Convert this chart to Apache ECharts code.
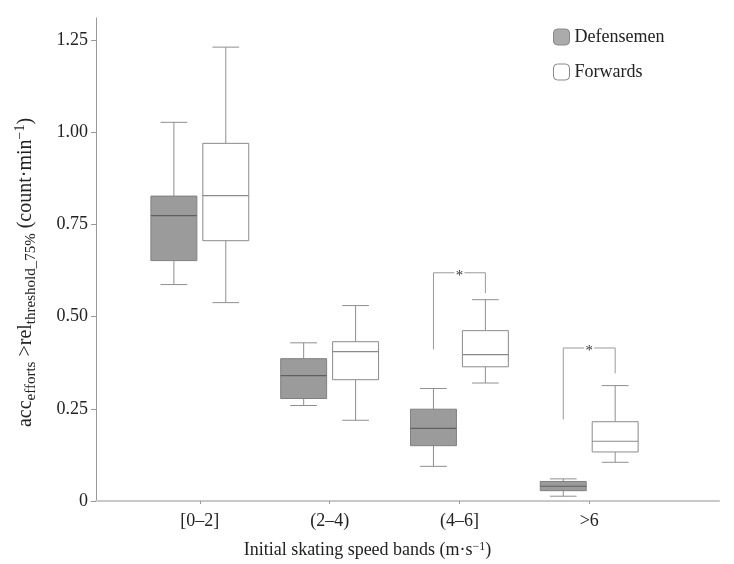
<!DOCTYPE html>
<html>
<head>
<meta charset="utf-8">
<script src="https://cdn.jsdelivr.net/npm/echarts@6/dist/echarts.min.js"></script>
<style>
  html, body { margin: 0; padding: 0; background: #fff; }
  #chart { width: 734px; height: 564px; }
</style>
</head>
<body>
<div id="chart"></div>
<script>
  // speed bands (x positions 1..4)
  var categories = ["[0\u20132]", "(2\u20134)", "(4\u20136]", ">6"];
  var yTicks = [0, 0.25, 0.5, 0.75, 1.0, 1.25];

  // [min, Q1, median, Q3, max] per band
  var defensemen = [
    [0.587, 0.652, 0.774, 0.827, 1.027],
    [0.259, 0.278, 0.340, 0.386, 0.429],
    [0.094, 0.150, 0.197, 0.249, 0.305],
    [0.013, 0.028, 0.040, 0.053, 0.060]
  ];
  var forwards = [
    [0.538, 0.706, 0.828, 0.970, 1.231],
    [0.219, 0.329, 0.405, 0.432, 0.530],
    [0.320, 0.364, 0.397, 0.462, 0.546],
    [0.105, 0.133, 0.162, 0.215, 0.313]
  ];

  // significance brackets: [band, left end, top, right end]
  var brackets = [
    [3, 0.411, 0.619, 0.564],
    [4, 0.221, 0.415, 0.346]
  ];

  var FONT = "Liberation Serif";
  var OFFSET = 0.2, BOX_HALF = 0.177, CAP_HALF = 0.103;

  function toData(rows) {
    return rows.map(function (r, i) { return [i + 1].concat(r); });
  }

  function boxRenderer(offset, fill, border, medianColor) {
    return function (params, api) {
      var x = api.value(0) + offset;
      var lo = api.coord([x, api.value(1)]);
      var q1 = api.coord([x, api.value(2)]);
      var md = api.coord([x, api.value(3)]);
      var q3 = api.coord([x, api.value(4)]);
      var hi = api.coord([x, api.value(5)]);
      var bw = api.size([BOX_HALF, 0])[0];
      var cw = api.size([CAP_HALF, 0])[0];
      var cx = lo[0];
      var line = { stroke: "#8f8f8f", lineWidth: 1 };
      return {
        type: "group",
        children: [
          { type: "line", shape: { x1: cx, y1: hi[1], x2: cx, y2: q3[1] }, style: line },
          { type: "line", shape: { x1: cx, y1: q1[1], x2: cx, y2: lo[1] }, style: line },
          { type: "line", shape: { x1: cx - cw, y1: hi[1], x2: cx + cw, y2: hi[1] }, style: line },
          { type: "line", shape: { x1: cx - cw, y1: lo[1], x2: cx + cw, y2: lo[1] }, style: line },
          { type: "rect", shape: { x: cx - bw, y: q3[1], width: 2 * bw, height: q1[1] - q3[1] },
            style: { fill: fill, stroke: border, lineWidth: 1 } },
          { type: "line", shape: { x1: cx - bw, y1: md[1], x2: cx + bw, y2: md[1] },
            style: { stroke: medianColor, lineWidth: 1.2 } }
        ]
      };
    };
  }

  function bracketRenderer(params, api) {
    var band = api.value(0);
    var l = api.coord([band - OFFSET, api.value(1)]);
    var t = api.coord([band - OFFSET, api.value(2)]);
    var r = api.coord([band + OFFSET, api.value(3)]);
    var mid = api.coord([band, api.value(2)]);
    var style = { stroke: "#9a9a9a", lineWidth: 1, fill: null };
    return {
      type: "group",
      children: [
        { type: "polyline", shape: { points: [[l[0], l[1]], [t[0], t[1]], [mid[0] - 5, t[1]]] }, style: style },
        { type: "polyline", shape: { points: [[mid[0] + 5, t[1]], [r[0], t[1]], [r[0], r[1]]] }, style: style },
        { type: "text", x: mid[0], y: t[1] + 3,
          style: { text: "*", fill: "#333", font: "15px " + FONT, align: "center", verticalAlign: "middle" } }
      ]
    };
  }

  var chart = echarts.init(document.getElementById("chart"));
  chart.setOption({
    animation: false,
    textStyle: { fontFamily: FONT },
    grid: { left: 96, right: 15, top: 18, bottom: 63 },
    legend: {
      data: ["Defensemen", "Forwards"],
      orient: "vertical",
      left: 548, top: 23,
      icon: "roundRect",
      itemWidth: 16, itemHeight: 16, itemGap: 17,
      itemStyle: { borderWidth: 1 },
      textStyle: { fontFamily: FONT, fontSize: 18, color: "#222" }
    },
    xAxis: {
      type: "value",
      min: 0.2, max: 5,
      name: "Initial skating speed bands (m\u00b7s{p|\u22121})",
      nameLocation: "middle",
      nameGap: 40,
      nameTextStyle: {
        fontFamily: FONT, fontSize: 18, color: "#222", padding: [0, 80, 0, 0],
        rich: { p: { fontSize: 12, verticalAlign: "top", lineHeight: 10, fontFamily: FONT, color: "#222" } }
      },
      axisLine: { lineStyle: { color: "#c8c8c8", width: 2 } },
      axisTick: { customValues: [1, 2, 3, 4], length: 3, lineStyle: { color: "#999" } },
      axisLabel: {
        customValues: [1, 2, 3, 4],
        formatter: function (v) { return categories[Math.round(v) - 1]; },
        margin: 11, fontSize: 18, color: "#222", fontFamily: FONT
      },
      splitLine: { show: false }
    },
    yAxis: {
      type: "value",
      min: 0, max: 1.31,
      name: "{a|acc}{s|efforts}{a| >rel}{s|threshold_75%}{a| (count\u00b7min}{p|\u22121}{a|)}",
      nameLocation: "middle",
      nameGap: 57,
      nameTextStyle: {
        padding: [0, 26, 0, 0],
        rich: {
          a: { fontFamily: FONT, fontSize: 20, color: "#222", lineHeight: 26 },
          s: { fontFamily: FONT, fontSize: 15, color: "#222", lineHeight: 12, verticalAlign: "bottom" },
          p: { fontFamily: FONT, fontSize: 14, color: "#222", lineHeight: 12, verticalAlign: "top" }
        }
      },
      axisLine: { show: true, lineStyle: { color: "#999", width: 1 } },
      axisTick: { show: true, customValues: yTicks, length: 5, lineStyle: { color: "#999" } },
      axisLabel: {
        customValues: yTicks,
        formatter: function (v) { return v === 0 ? "0" : v.toFixed(2); },
        margin: 8, fontSize: 18, color: "#222", fontFamily: FONT
      },
      splitLine: { show: false }
    },
    series: [
      {
        name: "Defensemen",
        type: "custom",
        itemStyle: { color: "#ababab", borderColor: "#888" },
        encode: { x: 0, y: [1, 2, 3, 4, 5] },
        renderItem: boxRenderer(-OFFSET, "#9b9b9b", "#808080", "#5f5f5f"),
        data: toData(defensemen)
      },
      {
        name: "Forwards",
        type: "custom",
        itemStyle: { color: "#ffffff", borderColor: "#888" },
        encode: { x: 0, y: [1, 2, 3, 4, 5] },
        renderItem: boxRenderer(OFFSET, "#ffffff", "#8a8a8a", "#8a8a8a"),
        data: toData(forwards)
      },
      {
        name: "sig",
        type: "custom",
        encode: { x: 0, y: [1, 2, 3] },
        renderItem: bracketRenderer,
        data: brackets
      }
    ]
  });
</script>
</body>
</html>
